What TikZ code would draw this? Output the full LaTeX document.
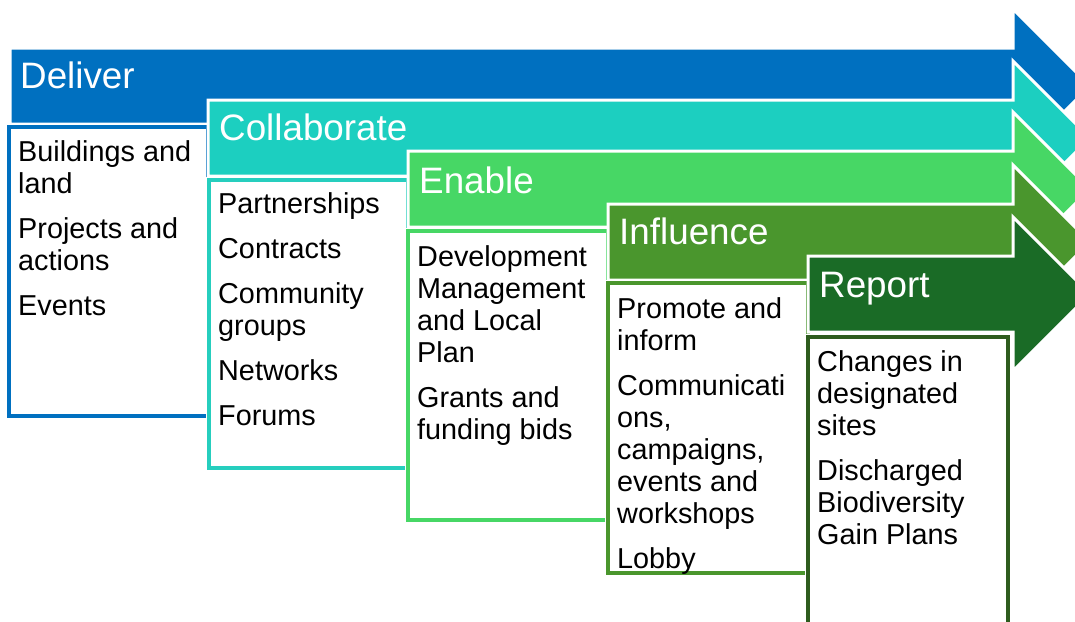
\documentclass[tikz,border=0pt]{standalone}
\usepackage{fontspec}
\setmainfont{Liberation Sans}
\definecolor{cDeliver}{RGB}{0,112,192}
\definecolor{cCollab}{RGB}{28,207,192}
\definecolor{cCollabLine}{RGB}{38,206,190}
\definecolor{cEnable}{RGB}{71,215,101}
\definecolor{cInfluence}{RGB}{74,150,45}
\definecolor{cReport}{RGB}{26,107,38}
\definecolor{cReportLine}{RGB}{46,92,30}
\newcommand{\stagearrow}[3]{%
  \path[fill=#3,draw=white,line width=3pt,line join=miter]
    (#1,#2) -- (1013,#2) -- (1013,#2-39) -- (1090,#2+38) -- (1013,#2+115)
    -- (1013,#2+76) -- (#1,#2+76) -- cycle;}
\newcommand{\stagebox}[5]{%
  \path[fill=white,draw=white,line width=6pt] (#1,#2) rectangle (#3,#4);
  \draw[#5,line width=4pt] (#1,#2) rectangle (#3,#4);}
\begin{document}
\begin{tikzpicture}[x=1pt,y=-1pt,
  headtext/.style={font=\fontsize{36.8}{40}\selectfont, text=white, anchor=base west, inner sep=0pt},
  bodytext/.style={font=\fontsize{28.8}{32}\selectfont, text=black, anchor=base west, inner sep=0pt}]
\useasboundingbox (0,0) rectangle (1075,621);
\clip (0,0) rectangle (1075,621);
% Deliver
\stagearrow{10}{48}{cDeliver}
\stagebox{9}{127}{208}{416}{cDeliver}
% Collaborate
\stagearrow{208}{100}{cCollab}
\stagebox{209}{180}{408}{468}{cCollabLine}
% Enable
\stagearrow{408}{151}{cEnable}
\stagebox{408}{231}{608}{520}{cEnable}
% Influence
\stagearrow{608}{204}{cInfluence}
\stagebox{608}{283}{808}{573}{cInfluence}
% Report
\stagearrow{808}{256}{cReport}
\stagebox{808}{337}{1008}{660}{cReportLine}
% headers
\node[headtext] (hDeliver) at (20,88) {Deliver};
\node[headtext] (hCollab) at (219,140) {Collaborate};
\node[headtext] (hEnable) at (419,193) {Enable};
\node[headtext] (hInfluence) at (619,244) {Influence};
\node[headtext] (hReport) at (819,297) {Report};
% bodies
\node[bodytext] (tDeliver) at (18,161) {\vtop{\hbox{Buildings and}\hbox{land}\vskip13pt\hbox{Projects and}\hbox{actions}\vskip13pt\hbox{Events}}};
\node[bodytext] (tCollab) at (218,213) {\vtop{\hbox{Partnerships}\vskip13pt\hbox{Contracts}\vskip13pt\hbox{Community}\hbox{groups}\vskip13pt\hbox{Networks}\vskip13pt\hbox{Forums}}};
\node[bodytext] (tEnable) at (417,266) {\vtop{\hbox{Development}\hbox{Management}\hbox{and Local}\hbox{Plan}\vskip13pt\hbox{Grants and}\hbox{funding bids}}};
\node[bodytext] (tInfluence) at (617,318) {\vtop{\hbox{Promote and}\hbox{inform}\vskip13pt\hbox{Communicati}\hbox{ons,}\hbox{campaigns,}\hbox{events and}\hbox{workshops}\vskip13pt\hbox{Lobby}}};
\node[bodytext] (tReport) at (817,371) {\vtop{\hbox{Changes in}\hbox{designated}\hbox{sites}\vskip13pt\hbox{Discharged}\hbox{Biodiversity}\hbox{Gain Plans}}};
\end{tikzpicture}
\end{document}
